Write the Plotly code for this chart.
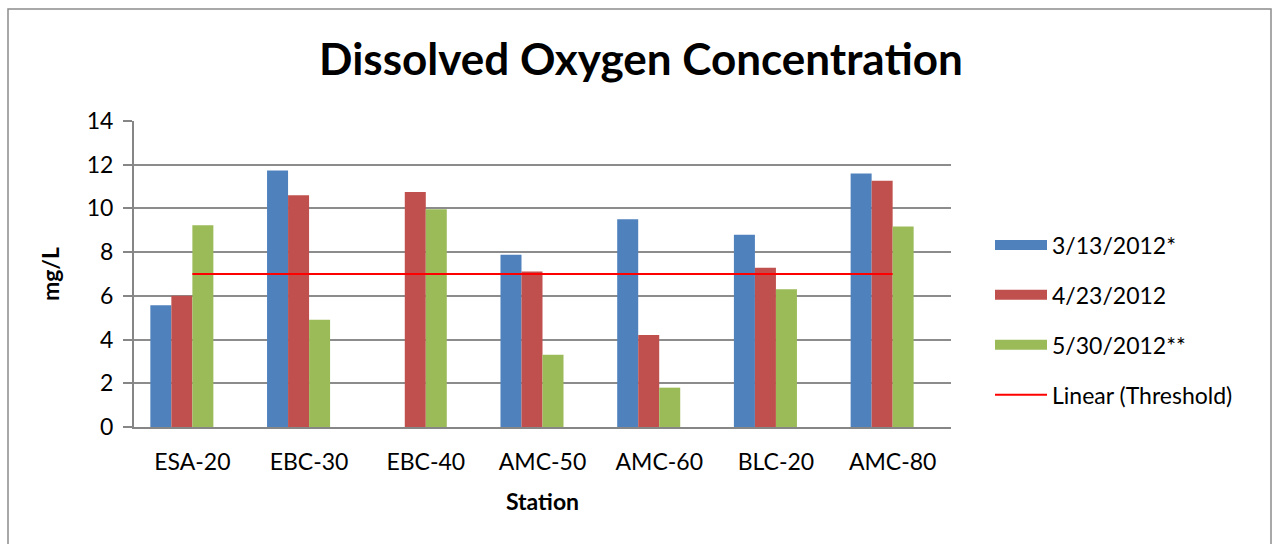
import plotly.graph_objects as go

# Station names along the x axis
stations = ["ESA-20", "EBC-30", "EBC-40", "AMC-50", "AMC-60", "BLC-20", "AMC-80"]

# Dissolved oxygen (mg/L) per sampling date; EBC-40 not sampled on 3/13
do_mar13 = [5.57, 11.73, None, 7.88, 9.50, 8.80, 11.60]
do_apr23 = [6.00, 10.60, 10.75, 7.11, 4.21, 7.29, 11.27]
do_may30 = [9.23, 4.91, 9.96, 3.31, 1.80, 6.30, 9.17]

series_names = ["3/13/2012*", "4/23/2012", "5/30/2012**"]
series_colors = ["#4F81BD", "#C0504D", "#9BBB59"]

threshold = 7.0
threshold_name = "Linear (Threshold)"

y_ticks = [0, 2, 4, 6, 8, 10, 12, 14]

FONT = "Lato, 'Open Sans', sans-serif"
BAR_W = 0.18

idx = list(range(len(stations)))

fig = go.Figure()
# Four slots per station: three sampling dates plus an empty slot for the threshold series
for k, (name, vals, col) in enumerate(zip(series_names, [do_mar13, do_apr23, do_may30], series_colors)):
    fig.add_trace(go.Bar(
        x=idx, y=vals, name=name,
        marker=dict(color=col, line=dict(width=0)),
        width=BAR_W, offset=(k - 2) * BAR_W,
        legendgroup=name, showlegend=False,
    ))
    # wide swatch legend entry for the bar series
    fig.add_trace(go.Scatter(
        x=[None], y=[None], mode="lines", name=name,
        line=dict(color=col, width=15),
        legendgroup=name, showlegend=True, hoverinfo="skip",
    ))

# Threshold trend line spans the first to last station
fig.add_trace(go.Scatter(
    x=[idx[0], idx[-1]], y=[threshold, threshold], mode="lines",
    name=threshold_name, line=dict(color="#FF0000", width=2),
    legendgroup=threshold_name,
))

PLOT_W = 1273 - 134 - 322
PLOT_H = 544 - 121 - 117

fig.update_layout(
    width=1273, height=544,
    margin=dict(l=134, r=322, t=121, b=117),
    paper_bgcolor="white", plot_bgcolor="white",
    font=dict(family=FONT, size=23, color="#000000"),
    title=dict(text="<b>Dissolved Oxygen Concentration</b>",
               x=0.5035, xanchor="center", y=0.89, yanchor="middle",
               font=dict(family=FONT, size=44, color="#000000")),
    barmode="overlay",
    showlegend=True,
    legend=dict(x=(990 - 134) / PLOT_W, xanchor="left",
                y=(427 - 320) / PLOT_H, yanchor="middle",
                font=dict(family=FONT, size=23),
                tracegroupgap=17, itemwidth=52,
                bgcolor="rgba(0,0,0,0)"),
    shapes=[dict(type="rect", xref="paper", yref="paper",
                 x0=(8 - 134) / PLOT_W, x1=(1271 - 134) / PLOT_W,
                 y0=-0.6, y1=(427 - 9) / PLOT_H,
                 line=dict(color="#8C8C8C", width=1.5), layer="below")],
)

fig.update_xaxes(
    range=[-0.5, len(stations) - 0.5],
    tickmode="array", tickvals=idx, ticktext=stations,
    showgrid=False, zeroline=False,
    showline=True, linecolor="#868686", linewidth=2,
    ticks="", ticklabelstandoff=13,
    title=dict(text="<b>Station</b>", font=dict(family=FONT, size=23), standoff=20),
)
fig.update_yaxes(
    range=[0, 14], tickmode="array", tickvals=y_ticks,
    showgrid=True, gridcolor="#8C8C8C", gridwidth=1.5,
    zeroline=False,
    showline=True, linecolor="#868686", linewidth=2,
    ticks="outside", ticklen=9, tickcolor="#868686", tickwidth=1.5,
    ticklabelstandoff=5,
    title=dict(text="<b>mg/L</b>", font=dict(family=FONT, size=23), standoff=21),
)

fig.write_html("out.html")
